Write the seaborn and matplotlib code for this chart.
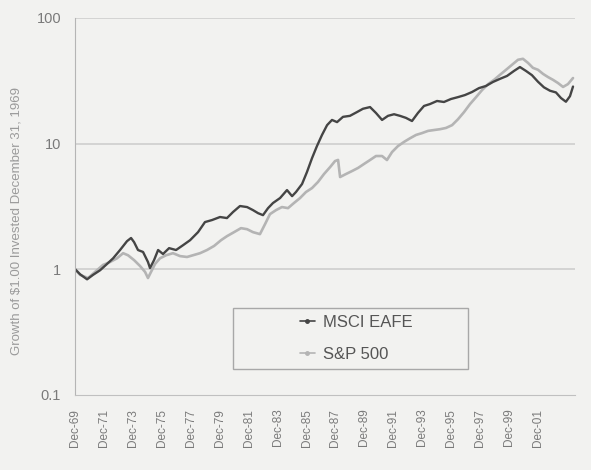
import pandas as pd
import matplotlib.pyplot as plt
import seaborn as sns
from matplotlib.lines import Line2D
from matplotlib.patches import Rectangle

# Growth of $1 (decimal years, value)
eafe_years = [1970.00, 1970.35, 1970.83, 1971.24, 1971.73, 1972.21, 1972.63, 1973.11, 1973.59, 1973.87,
              1974.08, 1974.35, 1974.70, 1975.04, 1975.18, 1975.46, 1975.74, 1976.08, 1976.50, 1976.98,
              1977.46, 1977.95, 1978.50, 1978.98, 1979.47, 1980.02, 1980.50, 1980.92, 1981.40, 1981.89,
              1982.30, 1982.65, 1982.99, 1983.34, 1983.68, 1984.17, 1984.65, 1985.00, 1985.27, 1985.69,
              1986.03, 1986.38, 1986.72, 1987.07, 1987.42, 1987.76, 1988.11, 1988.52, 1989.00, 1989.49,
              1989.90, 1990.39, 1990.80, 1991.22, 1991.63, 1992.05, 1992.46, 1992.87, 1993.29, 1993.70,
              1994.12, 1994.53, 1995.02, 1995.50, 1995.98, 1996.47, 1996.95, 1997.44, 1997.92, 1998.40,
              1998.89, 1999.37, 1999.86, 2000.34, 2000.75, 2001.17, 2001.58, 2002.00, 2002.41, 2002.83,
              2003.24, 2003.59, 2003.93, 2004.21, 2004.42]
eafe_values = [1.00, 0.91, 0.83, 0.90, 0.98, 1.10, 1.22, 1.42, 1.67, 1.77,
               1.64, 1.42, 1.37, 1.14, 1.02, 1.18, 1.42, 1.32, 1.47, 1.42,
               1.55, 1.70, 1.97, 2.37, 2.46, 2.60, 2.55, 2.85, 3.18, 3.12,
               2.95, 2.79, 2.69, 3.06, 3.36, 3.68, 4.26, 3.81, 4.11, 4.76,
               5.93, 7.65, 9.54, 11.7, 14.0, 15.4, 14.8, 16.3, 16.6, 17.8,
               18.9, 19.5, 17.5, 15.4, 16.6, 17.1, 16.6, 16.0, 15.1, 17.5,
               19.9, 20.6, 21.8, 21.4, 22.6, 23.4, 24.3, 25.7, 27.6, 28.7,
               30.9, 32.7, 34.5, 37.8, 40.6, 37.8, 35.0, 31.0, 28.0, 26.3,
               25.5, 23.0, 21.5, 23.8, 28.4]

sp_years = [1970.00, 1970.35, 1970.90, 1971.38, 1971.93, 1972.42, 1972.90, 1973.32, 1973.66, 1974.08,
            1974.49, 1974.84, 1975.04, 1975.25, 1975.53, 1975.87, 1976.29, 1976.77, 1977.26, 1977.74,
            1978.15, 1978.64, 1979.12, 1979.61, 1980.09, 1980.50, 1980.99, 1981.47, 1981.89, 1982.30,
            1982.78, 1983.13, 1983.47, 1983.89, 1984.30, 1984.72, 1985.13, 1985.55, 1985.96, 1986.38,
            1986.79, 1987.21, 1987.63, 1987.97, 1988.18, 1988.32, 1988.73, 1989.15, 1989.56, 1989.97,
            1990.39, 1990.80, 1991.22, 1991.56, 1991.91, 1992.32, 1992.74, 1993.15, 1993.57, 1993.98,
            1994.40, 1994.81, 1995.23, 1995.64, 1996.06, 1996.47, 1996.89, 1997.30, 1997.72, 1998.13,
            1998.55, 1998.96, 1999.37, 1999.79, 2000.20, 2000.62, 2000.96, 2001.31, 2001.65, 2002.00,
            2002.35, 2002.69, 2003.04, 2003.38, 2003.73, 2004.07, 2004.42]
sp_values = [1.00, 0.90, 0.85, 0.95, 1.08, 1.14, 1.22, 1.34, 1.29, 1.18,
             1.06, 0.95, 0.85, 0.95, 1.10, 1.22, 1.29, 1.34, 1.27, 1.25,
             1.29, 1.34, 1.42, 1.53, 1.70, 1.83, 1.97, 2.12, 2.08, 1.97,
             1.90, 2.28, 2.74, 2.95, 3.12, 3.06, 3.36, 3.68, 4.11, 4.42,
             4.94, 5.72, 6.49, 7.25, 7.40, 5.41, 5.72, 6.04, 6.39, 6.87,
             7.39, 7.95, 7.95, 7.39, 8.55, 9.54, 10.3, 11.0, 11.7, 12.1,
             12.6, 12.8, 13.0, 13.3, 14.0, 15.6, 17.8, 20.6, 23.4, 26.6,
             29.7, 32.1, 35.2, 38.6, 42.3, 46.4, 47.2, 43.8, 40.0, 38.6,
             35.8, 33.8, 32.1, 30.3, 28.2, 29.7, 33.2]

tick_years = list(range(1970, 2003, 2))
tick_labels = ["Dec-69", "Dec-71", "Dec-73", "Dec-75", "Dec-77", "Dec-79", "Dec-81", "Dec-83", "Dec-85",
               "Dec-87", "Dec-89", "Dec-91", "Dec-93", "Dec-95", "Dec-97", "Dec-99", "Dec-01"]

df = pd.concat([
    pd.DataFrame({"Year": eafe_years, "Growth": eafe_values, "Series": "MSCI EAFE"}),
    pd.DataFrame({"Year": sp_years, "Growth": sp_values, "Series": "S&P 500"}),
])

sns.set_style("white")
plt.rcParams["font.family"] = ["Liberation Sans", "DejaVu Sans"]

bg = "#f2f2f0"
colors = {"MSCI EAFE": "#454545", "S&P 500": "#b4b4b4"}

fig = plt.figure(figsize=(5.91, 4.70), dpi=100, facecolor=bg)
ax = fig.add_axes([0.127, 0.160, 0.846, 0.802])
ax.set_facecolor(bg)

# light series drawn first, dark one on top
sns.lineplot(data=df[df["Series"] == "S&P 500"], x="Year", y="Growth", color=colors["S&P 500"],
             linewidth=1.9, estimator=None, sort=False, ax=ax)
sns.lineplot(data=df[df["Series"] == "MSCI EAFE"], x="Year", y="Growth", color=colors["MSCI EAFE"],
             linewidth=1.7, estimator=None, sort=False, ax=ax)

ax.set_yscale("log")
ax.set_ylim(0.1, 100)
ax.set_xlim(1970, 2004.56)
ax.set_yticks([0.1, 1, 10, 100])
ax.set_yticklabels(["0.1", "1", "10", "100"], fontsize=10.5, color="#7a7a7a")
ax.minorticks_off()
ax.set_xticks(tick_years)
ax.set_xticklabels(tick_labels, rotation=90, fontsize=8.5, color="#7a7a7a")
ax.tick_params(axis="y", length=4, color="#aaaaaa", pad=6)
ax.tick_params(axis="x", length=0, pad=10)

for v in [1, 10, 100]:
    ax.axhline(v, color="#cbcbcb", linewidth=1.1, zorder=0)

for side in ["top", "right"]:
    ax.spines[side].set_visible(False)
ax.spines["left"].set_color("#b5b5b5")
ax.spines["bottom"].set_color("#c0c0c0")

ax.set_xlabel("")
ax.set_ylabel("Growth of $1.00 Invested December 31, 1969", fontsize=9.5, color="#9a9a9a")
ax.yaxis.set_label_coords(-0.106, 0.462)

# legend box
ax.add_patch(Rectangle((0.316, 0.069), 0.47, 0.162, transform=ax.transAxes, facecolor=bg,
                       edgecolor="#a8a8a8", linewidth=1.0, zorder=4))
handles = [Line2D([0], [0], color=colors["MSCI EAFE"], lw=1.2, marker=".", markersize=5),
           Line2D([0], [0], color=colors["S&P 500"], lw=1.2, marker=".", markersize=5)]
leg = ax.legend(handles, ["MSCI EAFE", "S&P 500"], loc="center", bbox_to_anchor=(0.562, 0.150),
                frameon=False, fontsize=12, handlelength=0.9, handletextpad=0.5, labelspacing=1.0)
leg.set_zorder(5)
for t in leg.get_texts():
    t.set_color("#555555")

plt.savefig("out.png", dpi=100, facecolor=bg)
